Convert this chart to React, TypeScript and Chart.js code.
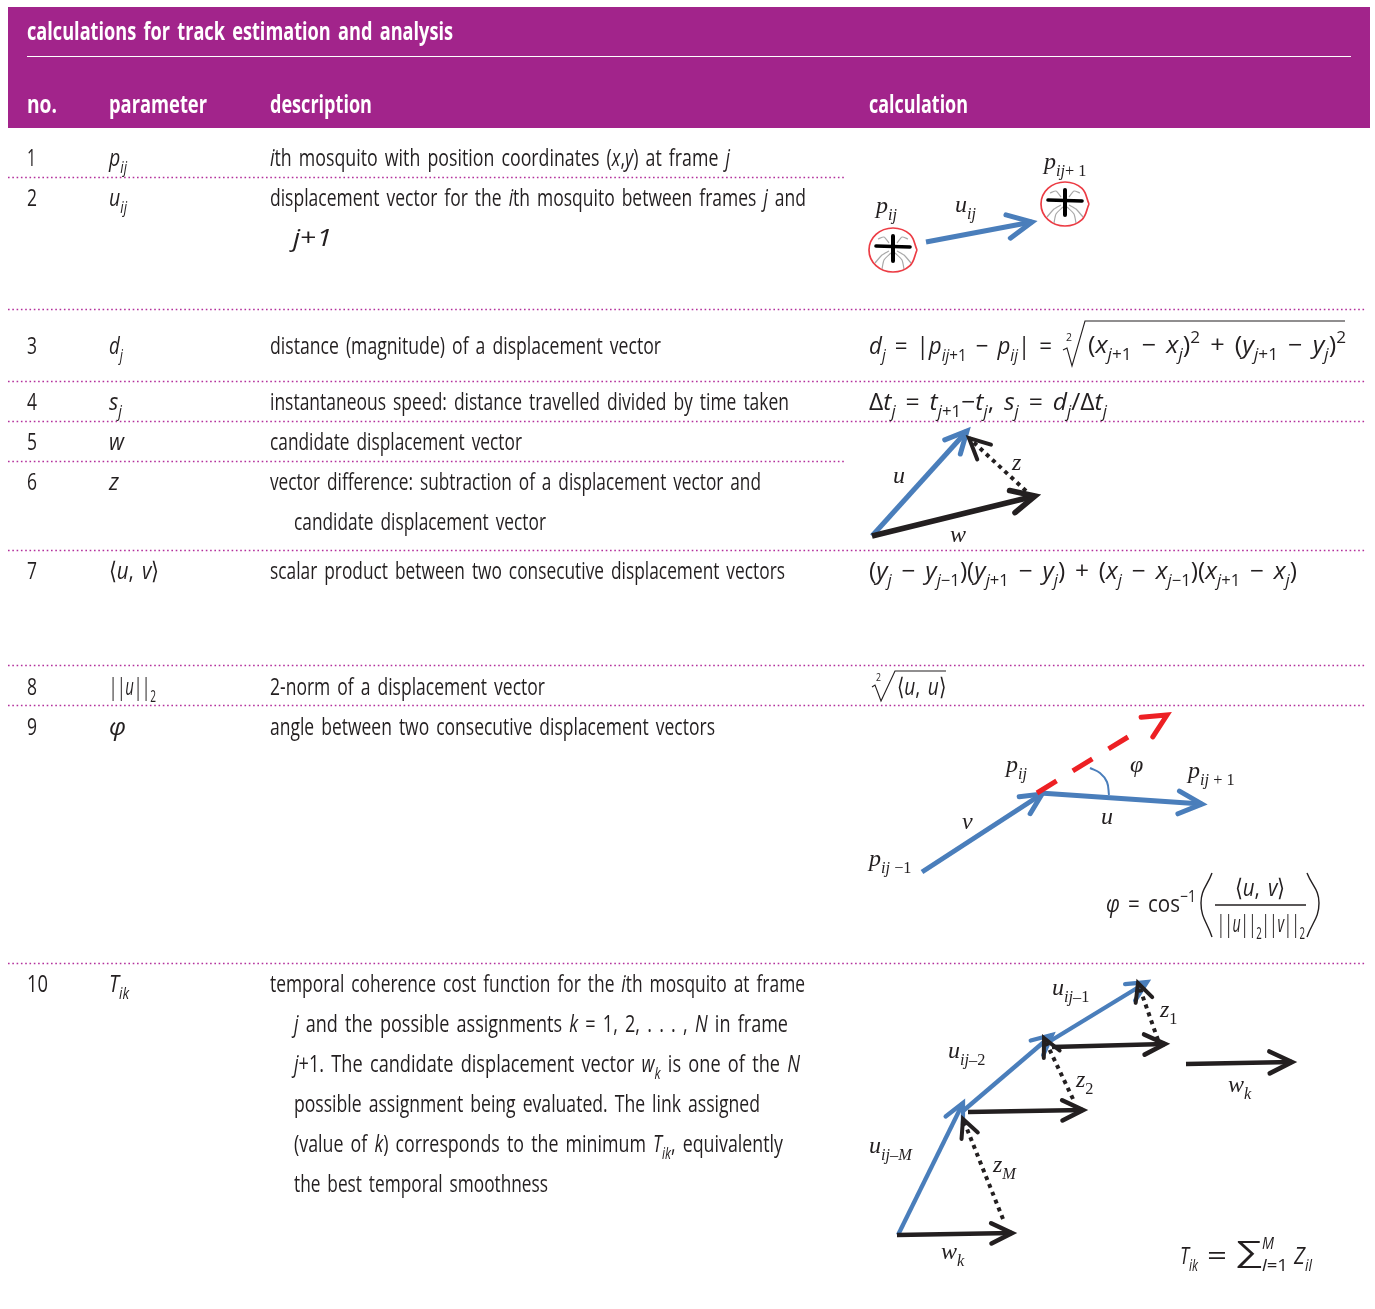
import React, { useEffect, useLayoutEffect, useRef } from "react";
import { Chart, registerables } from "chart.js";

Chart.register(...registerables);

// ---------- text content ----------
const tableTitle = "calculations for track estimation and analysis";
const columnHeaders = ["no.", "parameter", "description", "calculation"];
const rowNumbers = ["1", "2", "3", "4", "5", "6", "7", "8", "9", "10"];
const rowParameters = [
  "*p*_{*ij*}", "*u*_{*ij*}", "*d*_{*j*}", "*s*_{*j*}", "*w*", "*z*", "⟨*u*, *v*⟩", "||*u*||_{2}", "*φ*", "*T*_{*ik*}",
];
const descriptionLines = [
  "*i*th mosquito with position coordinates (*x*,*y*) at frame *j*",
  "displacement vector for the *i*th mosquito between frames *j* and",
  "*j*+*1*",
  "distance (magnitude) of a displacement vector",
  "instantaneous speed: distance travelled divided by time taken",
  "candidate displacement vector",
  "vector difference: subtraction of a displacement vector and",
  "candidate displacement vector",
  "scalar product between two consecutive displacement vectors",
  "2-norm of a displacement vector",
  "angle between two consecutive displacement vectors",
  "temporal coherence cost function for the *i*th mosquito at frame",
  "*j* and the possible assignments *k* = 1, 2, . . . , *N* in frame",
  "*j*+1. The candidate displacement vector *w*_{*k*} is one of the *N*",
  "possible assignment being evaluated. The link assigned",
  "(value of *k*) corresponds to the minimum *T*_{*ik*}, equivalently",
  "the best temporal smoothness",
];
const formulaTexts = [
  "*d*_{*j*} = |*p*_{*ij*+1} − *p*_{*ij*}| =",
  "2",
  "(*x*_{*j*+1} − *x*_{*j*})^{2} + (*y*_{*j*+1} − *y*_{*j*})^{2}",
  "Δ*t*_{*j*} = *t*_{*j*+1}−*t*_{*j*}, *s*_{*j*} = *d*_{*j*}/Δ*t*_{*j*}",
  "(*y*_{*j*} − *y*_{*j*−1})(*y*_{*j*+1} − *y*_{*j*}) + (*x*_{*j*} − *x*_{*j*−1})(*x*_{*j*+1} − *x*_{*j*})",
  "2",
  "⟨*u*, *u*⟩",
  "*φ* = cos^{−1}",
  "⟨*u*, *v*⟩",
  "||*u*||_{2}||*v*||_{2}",
  "*T*_{*ik*}",
  "=",
  "∑",
  "*M*",
  "*l*=1",
  "*Z*_{*il*}",
];
const diagramLabels = [
  "p_{ij}", "u_{ij}", "p_{ij#+ 1#}",
  "u", "z", "w",
  "p_{ij}", "φ", "p_{ij# + 1#}", "v", "u", "p_{ij# −1#}",
  "u_{ij#–1#}", "u_{ij#–2#}", "u_{ij–M}", "z_{#1#}", "z_{#2#}", "z_{M}", "w_{k}", "w_{k}",
];

// ---------- text layout (x, centre y, width) ----------
const headerLayout = [[27, 103, 30], [109, 103, 98], [270, 103, 102], [869, 103, 99]];
const titleLayout = [27, 30, 426];
const rowCentres = [157, 197, 345, 401, 441, 481, 570, 686, 726, 983];
const numberWidths = [9, 10, 10, 10, 10, 10, 10, 10, 10, 21];
const parameterWidths = [18, 18, 14, 13, 15, 10, 50, 47, 17, 20];
const descriptionLayout = [
  [270, 157, 460], [270, 197, 536], [293, 237, 39], [270, 345, 391], [270, 401, 519],
  [270, 441, 252], [270, 481, 491], [294, 521, 252], [270, 570, 515], [270, 686, 275],
  [270, 726, 445], [270, 983, 535], [294, 1023, 494], [294, 1063, 506], [294, 1103, 466],
  [294, 1143, 489], [294, 1183, 254],
];
const formulaLayout = [
  [869, 345, 183, 24], [1066, 337, 6, 11], [1088, 344, 258, 24], [869, 401, 238, 24],
  [869, 570, 428, 24], [876, 677, 5, 11], [897, 686, 49, 24], [1106, 903, 90, 24],
  [1235, 887, 50, 24], [1217, 923, 88, 24], [1180, 1255, 18, 24], [1207, 1254, 20, 28],
  [1236, 1250, 26, 28], [1262, 1243, 12, 17], [1262, 1265, 26, 17], [1294, 1255, 18, 24],
];
const diagramLayout = [
  [876, 205], [955, 204], [1044, 161], [893, 475], [1012, 462], [950, 534],
  [1006, 764], [1130, 764], [1188, 770], [962, 821], [1101, 816], [869, 858],
  [1052, 987], [948, 1050], [869, 1145], [1160, 1009], [1076, 1079], [993, 1164],
  [1228, 1084], [941, 1251],
];

// ---------- vector geometry: [x0, y0, x1, y1, head length] ----------
const blueArrows = [
  [926, 242, 1032, 222, 27],
  [872, 536, 967, 431, 24],
  [922, 872, 1042, 794, 23],
  [1040, 793, 1202, 804, 26],
  [898, 1235, 963, 1103, 22],
  [963, 1111, 1052, 1035, 22],
  [1047, 1043, 1147, 982, 22],
];
const blackArrows = [
  [872, 536, 1035, 496, 26],
  [897, 1235, 1012, 1233, 23],
  [968, 1112, 1083, 1110, 23],
  [1052, 1047, 1165, 1044, 23],
  [1186, 1064, 1292, 1062, 25],
];
const dottedArrows = [
  [1026, 491, 969, 438, 23],
  [1003, 1219, 963, 1119, 20],
  [1073, 1099, 1044, 1038, 20],
  [1158, 1040, 1138, 983, 20],
];
const redArrowShaft = [[1037, 793], [1128, 737]];
const redArrowTip = [1167, 715];
const angleArc = [[1090, 768], [1100, 773], [1107, 782], [1109, 795]];
const mosquitoCentres = [[893, 250], [1065, 204]];
const mosquitoRing = [
  [24, 0], [17, -15.6], [0, -22], [-17, -15.6], [-24, 0], [-17, 15.6], [0, 22], [17, 15.6], [24, 0],
];
const mosquitoWings = [[-17, -4], [17, -3]];
const mosquitoBody = [[0, -14], [0, 11]];
const mosquitoLegs = [
  [[-4, -7], [-9, -13], [-15, -11]],
  [[4, -7], [9, -13], [15, -11]],
  [[-4, 1], [-11, 5], [-18, 13]],
  [[4, 1], [11, 5], [18, 13]],
  [[-2, 3], [-9, 10], [-11, 19]],
  [[2, 3], [9, 10], [11, 19]],
];
const wideRuleLevels = [309.5, 381.5, 421.5, 550.5, 665.5, 705.5, 963.5];
const shortRuleLevels = [177.5, 461.5];
const headerBand = [[8, 67.5], [1370, 67.5]];
const titleRule = [[27, 56.5], [1351, 56.5]];
const bigRoot = [[1063, 350], [1067, 348], [1072, 366], [1085, 321], [1345, 321]];
const smallRoot = [[872, 687], [875, 685], [881, 701], [895, 671], [946, 671]];
const fractionBar = [[1215, 905], [1306, 905]];
const leftParen = [[1212, 873], [1201, 903], [1212, 937]];
const rightParen = [[1307, 873], [1319, 903], [1307, 937]];

// ---------- colours ----------
const PURPLE = "#a2248b";
const INK = "#231f20";
const BLUE = "#4a7ebb";
const RED = "#ed2024";
const DOTS = "#b3309c";
const NARROW = '"Liberation Sans Narrow", "Open Sans", sans-serif';
const SERIF = '"Liberation Serif", serif';

type Pt = number[];
const pts = (list: Pt[]) => list.map(([x, y]) => ({ x, y }));

function chevron(a: number[]) {
  const [x0, y0, x1, y1, len] = a;
  const ang = Math.atan2(y0 - y1, x0 - x1);
  const spread = (26 * Math.PI) / 180;
  return [
    [x1 + len * Math.cos(ang + spread), y1 + len * Math.sin(ang + spread)],
    [x1, y1],
    [x1 + len * Math.cos(ang - spread), y1 + len * Math.sin(ang - spread)],
  ];
}

function buildDatasets() {
  const out: any[] = [];
  const line = (data: Pt[], color: string, width: number, extra: any = {}) =>
    out.push({
      data: pts(data), borderColor: color, borderWidth: width, pointRadius: 0,
      showLine: true, fill: false, tension: 0, borderCapStyle: "butt",
      borderJoinStyle: "miter", order: -out.length, ...extra,
    });
  const head = (a: number[], color: string, width: number) =>
    line(chevron(a), color, width, { borderCapStyle: "round" });

  line(headerBand, PURPLE, 121);
  line(titleRule, "#ffffff", 1);
  const dotted = { borderDash: [1.6, 2.7] };
  wideRuleLevels.forEach((y) => line([[8, y], [1366, y]], DOTS, 1.3, dotted));
  shortRuleLevels.forEach((y) => line([[8, y], [846, y]], DOTS, 1.3, dotted));
  line(bigRoot, INK, 1.1);
  line(smallRoot, INK, 1.1);
  line(fractionBar, INK, 1.5);
  line(leftParen, INK, 1.4, { tension: 0.45 });
  line(rightParen, INK, 1.4, { tension: 0.45 });

  mosquitoCentres.forEach(([cx, cy]) => {
    const at = (l: Pt[]) => l.map(([x, y]) => [cx + x, cy + y]);
    line(at(mosquitoRing), "#ec3c44", 1.7, { tension: 0.38 });
    mosquitoLegs.forEach((leg) => line(at(leg), "#a8a8a8", 1.2, { tension: 0.2 }));
    line(at(mosquitoWings), "#000000", 3.6, { borderCapStyle: "round" });
    line(at(mosquitoBody), "#000000", 4, { borderCapStyle: "round" });
  });

  line(angleArc, BLUE, 2, { tension: 0.4 });
  blueArrows.forEach((a, i) => {
    const w = i >= 4 ? 4.3 : 5;
    line([[a[0], a[1]], [a[2], a[3]]], BLUE, w);
    head(a, BLUE, w);
  });
  line(redArrowShaft, RED, 5, { borderDash: [23, 19] });
  head([redArrowShaft[0][0], redArrowShaft[0][1], redArrowTip[0], redArrowTip[1], 26], RED, 5);
  dottedArrows.forEach((a) => {
    line([[a[0], a[1]], [a[2], a[3]]], INK, 4, { borderDash: [4, 4.4] });
    head(a, INK, 4);
  });
  blackArrows.forEach((a, i) => {
    const w = i === 0 ? 5.6 : 4.6;
    line([[a[0], a[1]], [a[2], a[3]]], INK, w);
    head(a, INK, w);
  });
  return out;
}

// ---------- tiny markup: *italic*, #upright#, _{sub}, ^{sup} ----------
function closing(s: string, open: number) {
  let depth = 0;
  for (let k = open; k < s.length; k++) {
    if (s[k] === "{") depth++;
    if (s[k] === "}" && --depth === 0) return k;
  }
  return s.length;
}
function rich(s: string): React.ReactNode[] {
  const out: React.ReactNode[] = [];
  let buf = "";
  const flush = () => { if (buf) { out.push(buf); buf = ""; } };
  for (let i = 0; i < s.length; i++) {
    if (s[i] === "*" || s[i] === "#") {
      const e = s.indexOf(s[i], i + 1);
      flush();
      out.push(
        s[i] === "*"
          ? <i key={i}>{s.slice(i + 1, e)}</i>
          : <span key={i} style={{ fontStyle: "normal" }}>{s.slice(i + 1, e)}</span>
      );
      i = e;
    } else if ((s[i] === "_" || s[i] === "^") && s[i + 1] === "{") {
      const e = closing(s, i + 1);
      flush();
      const sub = s[i] === "_";
      out.push(
        <span key={i} style={{ fontSize: "0.68em", position: "relative", top: sub ? "0.42em" : "-0.6em", lineHeight: 0 }}>
          {rich(s.slice(i + 2, e))}
        </span>
      );
      i = e;
    } else buf += s[i];
  }
  flush();
  return out;
}

type TextProps = {
  text: string; x: number; y: number; w?: number; size?: number; color?: string;
  bold?: boolean; font?: string; italic?: boolean;
};
function Text({ text, x, y, w, size = 24, color = INK, bold, font = NARROW, italic }: TextProps) {
  const ref = useRef<HTMLSpanElement>(null);
  useLayoutEffect(() => {
    const el = ref.current;
    if (!el || !w) return;
    el.style.transform = "none";
    const actual = el.getBoundingClientRect().width;
    if (actual > 0) el.style.transform = `scaleX(${w / actual})`;
  }, [text, w]);
  return (
    <span
      ref={ref}
      style={{
        position: "absolute", left: x, top: y - 20, display: "inline-block", height: 40, lineHeight: "40px",
        whiteSpace: "nowrap", fontFamily: font, fontSize: size, color, transformOrigin: "0 50%",
        fontWeight: bold ? 700 : 400, fontStyle: italic ? "italic" : "normal", wordSpacing: font === NARROW ? "0.14em" : 0,
      }}
    >
      {rich(text)}
    </span>
  );
}

export default function App() {
  const canvas = useRef<HTMLCanvasElement>(null);
  useEffect(() => {
    if (!canvas.current) return;
    const chart = new Chart(canvas.current, {
      type: "scatter",
      data: { datasets: buildDatasets() },
      options: {
        animation: false,
        responsive: false,
        events: [],
        layout: { padding: 0, autoPadding: false },
        plugins: { legend: { display: false }, tooltip: { enabled: false }, title: { display: false } },
        scales: {
          x: { type: "linear", min: 0, max: 1375, display: false },
          y: { type: "linear", min: 0, max: 1309, reverse: true, display: false },
        },
      },
    });
    return () => chart.destroy();
  }, []);

  return (
    <div style={{ position: "absolute", left: 0, top: 0, width: 1375, height: 1309, overflow: "hidden", background: "#fff" }}>
      <canvas ref={canvas} width={1375} height={1309} style={{ position: "absolute", left: 0, top: 0, display: "block" }} />
      <Text text={tableTitle} x={titleLayout[0]} y={titleLayout[1]} w={titleLayout[2]} size={25} color="#fff" bold />
      {columnHeaders.map((t, i) => (
        <Text key={t} text={t} x={headerLayout[i][0]} y={headerLayout[i][1]} w={headerLayout[i][2]} size={25} color="#fff" bold />
      ))}
      {rowNumbers.map((t, i) => (
        <Text key={t} text={t} x={27} y={rowCentres[i]} w={numberWidths[i]} />
      ))}
      {rowParameters.map((t, i) => (
        <Text key={i} text={t} x={109} y={rowCentres[i]} w={parameterWidths[i]} />
      ))}
      {descriptionLines.map((t, i) => (
        <Text key={i} text={t} x={descriptionLayout[i][0]} y={descriptionLayout[i][1]} w={descriptionLayout[i][2]} />
      ))}
      {formulaTexts.map((t, i) => (
        <Text key={i} text={t} x={formulaLayout[i][0]} y={formulaLayout[i][1]} w={formulaLayout[i][2]} size={formulaLayout[i][3]} />
      ))}
      {diagramLabels.map((t, i) => (
        <Text key={i} text={t} x={diagramLayout[i][0]} y={diagramLayout[i][1]} size={24} font={SERIF} italic />
      ))}
    </div>
  );
}
